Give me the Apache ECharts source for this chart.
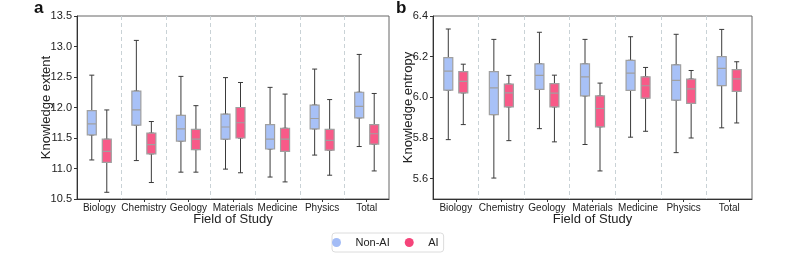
<!DOCTYPE html>
<html><head><meta charset="utf-8">
<script src="https://cdn.jsdelivr.net/npm/echarts@6/dist/echarts.min.js"></script>
<style>html,body{margin:0;padding:0;background:#fff}#c{width:793px;height:255px}</style>
</head><body><div id="c"></div>
<script>
// Categories
const categories = ['Biology','Chemistry','Geology','Materials','Medicine','Physics','Total'];
// [min, Q1, median, Q3, max]
const extentNonAI = [
  [11.14, 11.55, 11.73, 11.95, 12.53],
  [11.13, 11.71, 11.96, 12.27, 13.10],
  [10.94, 11.45, 11.65, 11.87, 12.51],
  [10.99, 11.48, 11.68, 11.89, 12.49],
  [10.86, 11.32, 11.48, 11.72, 12.33],
  [11.22, 11.65, 11.82, 12.04, 12.63],
  [11.36, 11.83, 12.02, 12.25, 12.87]
];
const extentAI = [
  [10.61, 11.10, 11.28, 11.48, 11.96],
  [10.77, 11.24, 11.39, 11.58, 11.77],
  [10.94, 11.31, 11.48, 11.64, 12.03],
  [10.93, 11.50, 11.75, 12.00, 12.41],
  [10.78, 11.28, 11.48, 11.66, 12.22],
  [10.89, 11.30, 11.46, 11.64, 12.13],
  [10.96, 11.40, 11.57, 11.72, 12.23]
];
const entropyNonAI = [
  [5.792, 6.035, 6.129, 6.195, 6.336],
  [5.603, 5.915, 6.047, 6.126, 6.285],
  [5.846, 6.039, 6.108, 6.165, 6.320],
  [5.768, 6.007, 6.101, 6.165, 6.285],
  [5.804, 6.034, 6.119, 6.182, 6.298],
  [5.728, 5.986, 6.083, 6.160, 6.310],
  [5.850, 6.058, 6.142, 6.200, 6.334]
];
const entropyAI = [
  [5.866, 6.022, 6.078, 6.126, 6.163],
  [5.787, 5.953, 6.022, 6.065, 6.108],
  [5.781, 5.953, 6.021, 6.067, 6.109],
  [5.638, 5.855, 5.945, 6.007, 6.070],
  [5.833, 5.996, 6.057, 6.101, 6.147],
  [5.800, 5.970, 6.042, 6.090, 6.132],
  [5.874, 6.029, 6.091, 6.136, 6.175]
];
// Tick labels
const extentTicks = [10.5, 11.0, 11.5, 12.0, 12.5, 13.0, 13.5];
const entropyTicks = [5.6, 5.8, 6.0, 6.2, 6.4];
const seriesNames = ['Non-AI', 'AI'];
const seriesColors = ['#a8c1f7', '#f85a88'];
const legendColors = ['#a3bcf6', '#f5447a'];

const FONT = 'Liberation Sans, Arial, Helvetica, sans-serif';
const TOP = 16, HEIGHT = 183, SHIFT = 7.5;
const panels = [
  {left: 77, width: 312, min: 10.5, max: 13.5, ticks: extentTicks, name: 'Knowledge extent', nameGap: 24, data: [extentNonAI, extentAI]},
  {left: 433, width: 319, min: 5.5, max: 6.4, ticks: entropyTicks, name: 'Knowledge entropy', nameGap: 18, data: [entropyNonAI, entropyAI]}
];

const grid = [], xAxis = [], yAxis = [], series = [];
panels.forEach(p => {
  const gi = grid.length;
  grid.push({left: p.left, top: TOP, width: p.width, height: HEIGHT, show: true, borderColor: '#666', borderWidth: 1, backgroundColor: 'transparent'});
  xAxis.push({
    type: 'category', gridIndex: gi, data: categories, boundaryGap: true,
    axisLine: {show: true, lineStyle: {color: '#333', width: 1}},
    axisTick: {show: true, alignWithLabel: true, length: 3, lineStyle: {color: '#333'}},
    axisLabel: {fontSize: 10, color: '#222', margin: 4, fontFamily: FONT, interval: 0},
    splitLine: {show: true, showMinLine: false, showMaxLine: false, lineStyle: {color: '#c9d2d6', type: [4, 3], width: 1}},
    name: 'Field of Study', nameLocation: 'middle', nameGap: 14, nameMoveOverlap: false,
    nameTextStyle: {fontSize: 13, color: '#222', fontFamily: FONT}
  });
  yAxis.push({
    type: 'value', gridIndex: gi, min: p.min, max: p.max,
    axisLine: {show: true, lineStyle: {color: '#333', width: 1}},
    axisTick: {show: true, length: 3, lineStyle: {color: '#333'}, customValues: p.ticks},
    axisLabel: {fontSize: 11, color: '#222', margin: 5, fontFamily: FONT, customValues: p.ticks, formatter: v => Number(v).toFixed(1)},
    splitLine: {show: false},
    name: p.name, nameLocation: 'middle', nameGap: p.nameGap, nameMoveOverlap: false,
    nameTextStyle: {fontSize: 13, color: '#222', fontFamily: FONT}
  });
  p.data.forEach((raw, si) => {
    const off = si === 0 ? -SHIFT : SHIFT;
    ['whisker', 'box'].forEach(layer => {
      const idx = grid.length;
      grid.push({left: p.left + off, top: TOP, width: p.width, height: HEIGHT, show: false});
      xAxis.push({type: 'category', gridIndex: idx, data: categories, show: false});
      yAxis.push({type: 'value', gridIndex: idx, min: p.min, max: p.max, show: false});
      if (layer === 'whisker') {
        series.push({
          type: 'boxplot', name: seriesNames[si] + ' whisker', xAxisIndex: idx, yAxisIndex: idx,
          boxWidth: [5, 5], z: 2, silent: true,
          itemStyle: {color: '#fff', borderColor: '#3a3a3a', borderWidth: 1},
          emphasis: {disabled: true},
          data: raw
        });
      } else {
        series.push({
          type: 'boxplot', name: seriesNames[si], xAxisIndex: idx, yAxisIndex: idx,
          boxWidth: [9, 9], z: 3,
          itemStyle: {color: seriesColors[si], borderColor: '#a0a0a0', borderWidth: 1.2},
          emphasis: {disabled: true},
          data: raw.map(d => [d[1], d[1], d[2], d[3], d[3]])
        });
      }
    });
  });
});

const chart = echarts.init(document.getElementById('c'), null, {renderer: 'canvas'});
chart.setOption({
  animation: false,
  textStyle: {fontFamily: FONT},
  title: [
    {text: 'a', left: 34, top: 0, padding: 0, textStyle: {fontSize: 17, fontWeight: 'bold', color: '#111', fontFamily: FONT}},
    {text: 'b', left: 396, top: 0, padding: 0, textStyle: {fontSize: 17, fontWeight: 'bold', color: '#111', fontFamily: FONT}}
  ],
  legend: {
    data: seriesNames.map((n, i) => ({name: n, itemStyle: {color: legendColors[i], borderWidth: 0}})),
    left: 332, top: 233, orient: 'horizontal',
    icon: 'circle', itemWidth: 28, itemHeight: 9, itemGap: 15,
    padding: [4, 5, 4, 0], borderColor: '#dcdcdc', borderWidth: 1, borderRadius: 3,
    textStyle: {fontSize: 11, color: '#222', fontFamily: FONT}
  },
  grid, xAxis, yAxis, series
});
</script></body></html>
